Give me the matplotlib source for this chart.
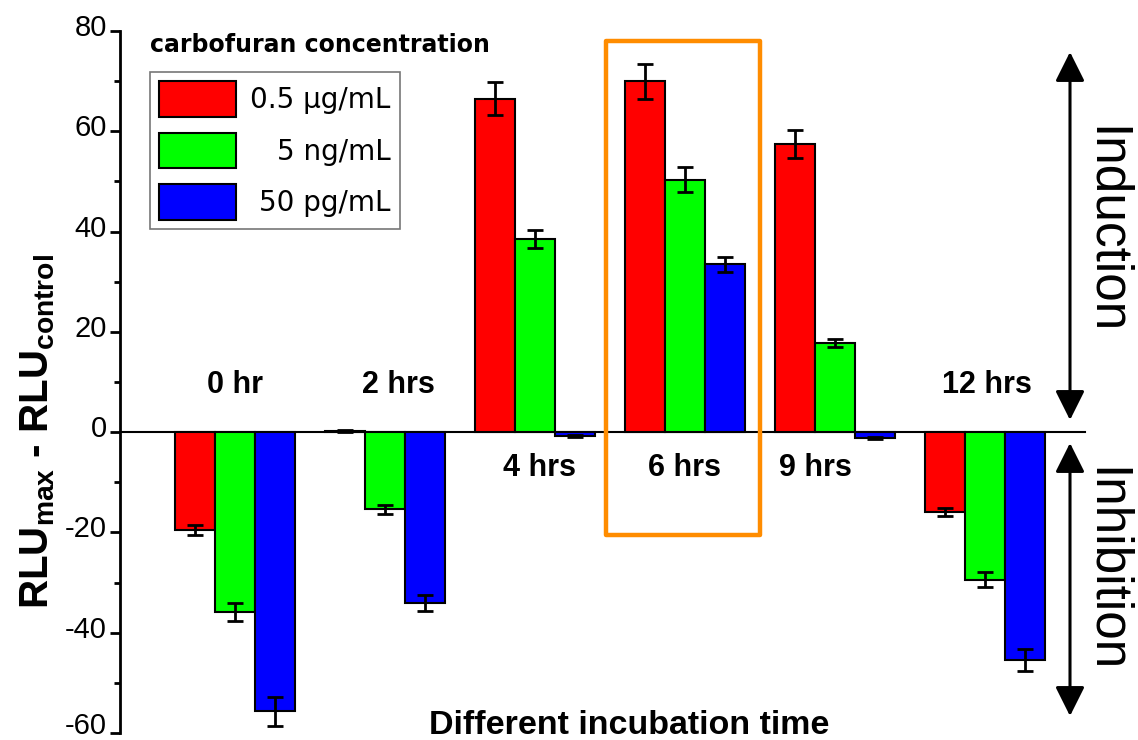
import matplotlib
matplotlib.use("Agg")
import matplotlib.pyplot as plt
import matplotlib.transforms as mtransforms
import numpy as np
from matplotlib.patches import Rectangle

plt.rcParams["axes.unicode_minus"] = False
plt.rcParams["mathtext.fontset"] = "custom"
plt.rcParams["mathtext.rm"] = "Liberation Sans:bold"
plt.rcParams["mathtext.bf"] = "Liberation Sans:bold"
plt.rcParams["mathtext.it"] = "Liberation Sans:bold"

times = ["0 hr", "2 hrs", "4 hrs", "6 hrs", "9 hrs", "12 hrs"]
series = ["0.5 \u03bcg/mL", "5 ng/mL", "50 pg/mL"]
colors = ["#ff0000", "#00ff00", "#0000ff"]
red_vals = [-19.6, 0.3, 66.5, 70.0, 57.5, -16.0]
red_err = [1.0, 0.2, 3.3, 3.5, 2.8, 0.8]
green_vals = [-35.8, -15.4, 38.5, 50.3, 17.8, -29.4]
green_err = [1.8, 0.9, 1.8, 2.5, 0.8, 1.5]
blue_vals = [-55.7, -34.0, -0.8, 33.5, -1.2, -45.4]
blue_err = [2.9, 1.6, 0.2, 1.5, 0.2, 2.2]
yticks = [-60, -40, -20, 0, 20, 40, 60, 80]

fig = plt.figure(figsize=(11.38, 7.40), dpi=100)
ax = fig.add_axes([120/1138, 1-733/740, (1085-120)/1138, (733-31)/740])
x = np.arange(len(times))
w = 40/150
for i, (vals, errs, c, lab) in enumerate(zip([red_vals, green_vals, blue_vals],
                                             [red_err, green_err, blue_err], colors, series)):
    ax.bar(x + (i-1)*w, vals, w, color=c, edgecolor="black", linewidth=1.5, label=lab, zorder=2)
    ax.errorbar(x + (i-1)*w, vals, yerr=errs, fmt="none", ecolor="black",
                elinewidth=2, capsize=6, capthick=2, zorder=3)

ax.set_xlim(-115/150, 5 + 100/150)
ax.set_ylim(-60, 80)
ax.set_yticks(yticks)
ax.set_yticklabels([])
ax.set_yticks(np.arange(-50, 80, 20), minor=True)
ax.tick_params(axis="y", which="major", length=7, width=2, direction="out")
ax.tick_params(axis="y", which="minor", length=4.5, width=2, direction="out")
# tick labels drawn as text so they can be nudged slightly upward
base_tr = mtransforms.blended_transform_factory(ax.transAxes, ax.transData)
for v in yticks:
    dy = 3 if v > yticks[0] else 7
    tr = base_tr + mtransforms.ScaledTranslation(-13/100, dy/100, fig.dpi_scale_trans)
    ax.text(0, v, str(v), transform=tr, ha="right", va="center", fontsize=21,
            family="Liberation Sans", clip_on=False)
ax.set_xticks([])
ax.spines["top"].set_visible(False)
ax.spines["right"].set_visible(False)
ax.spines["bottom"].set_position(("data", 0))
ax.spines["bottom"].set_linewidth(1.5)
ax.spines["left"].set_linewidth(2)
ax.spines["bottom"].set_zorder(1)

# group labels
lab_pos = [(0.0, 9.4), (0.087, 9.4), (0.03, -7.2), (0.0, -7.2), (-0.133, -7.2), (0.013, 9.4)]
for xi, (t, (dx, y)) in enumerate(zip(times, lab_pos)):
    ax.text(xi + dx, y, t, ha="center", va="center", fontsize=22, fontweight="bold",
            family="Liberation Sans")

# highlight box
ax.add_patch(Rectangle(((606-235)/150, -20.6), (760-606)/150, 98.6, fill=False,
                       edgecolor="#ff8c00", linewidth=3.2, zorder=4, clip_on=False,
                       joinstyle="round"))

# legend
leg = ax.legend(loc="upper left", bbox_to_anchor=((150-120)/965, (733-72)/702),
                fontsize=20, frameon=True, fancybox=False, edgecolor="#555555",
                handlelength=2.77, handleheight=1.6, borderpad=0.33, labelspacing=0.57,
                handletextpad=0.5, borderaxespad=0)
leg.get_frame().set_linewidth(1.2)
for t in leg.get_texts():
    t.set_fontfamily("DejaVu Sans")
fig.canvas.draw()
renderer = fig.canvas.get_renderer()
maxw = max(t.get_window_extent(renderer).width for t in leg.get_texts())
for t in leg.get_texts():
    t.set_position((maxw - t.get_window_extent(renderer).width, 0))
fig.text(150/1138, 1-45/740, "carbofuran concentration", fontsize=17, fontweight="bold",
         family="DejaVu Sans", ha="left", va="center")

# axis labels
fig.text(38/1138, 1-432/740, r"RLU$_{\mathrm{max}}$ - RLU$_{\mathrm{control}}$", rotation=90,
         fontsize=29, fontweight="bold", ha="center", va="center", family="Liberation Sans")
fig.text(629/1138, 1-726/740, "Different incubation time", fontsize=24.5, fontweight="bold",
         ha="center", va="center", family="Liberation Sans")

# arrows and side text
astyle = "<|-|>,head_length=0.9,head_width=0.45"
ax.annotate("", xy=(1070/1138, 1-52/740), xytext=(1070/1138, 1-420/740),
            xycoords="figure fraction",
            arrowprops=dict(arrowstyle=astyle, color="black", lw=2.2, mutation_scale=20,
                            shrinkA=0, shrinkB=0))
ax.annotate("", xy=(1070/1138, 1-443/740), xytext=(1070/1138, 1-716/740),
            xycoords="figure fraction",
            arrowprops=dict(arrowstyle=astyle, color="black", lw=2.2, mutation_scale=20,
                            shrinkA=0, shrinkB=0))
fig.text(1105/1138, 1-230/740, "Induction", rotation=-90, fontsize=37, ha="center",
         va="center", family="Liberation Sans")
fig.text(1105/1138, 1-570/740, "Inhibition", rotation=-90, fontsize=37, ha="center",
         va="center", family="Liberation Sans")

fig.savefig("out.png", dpi=100)
